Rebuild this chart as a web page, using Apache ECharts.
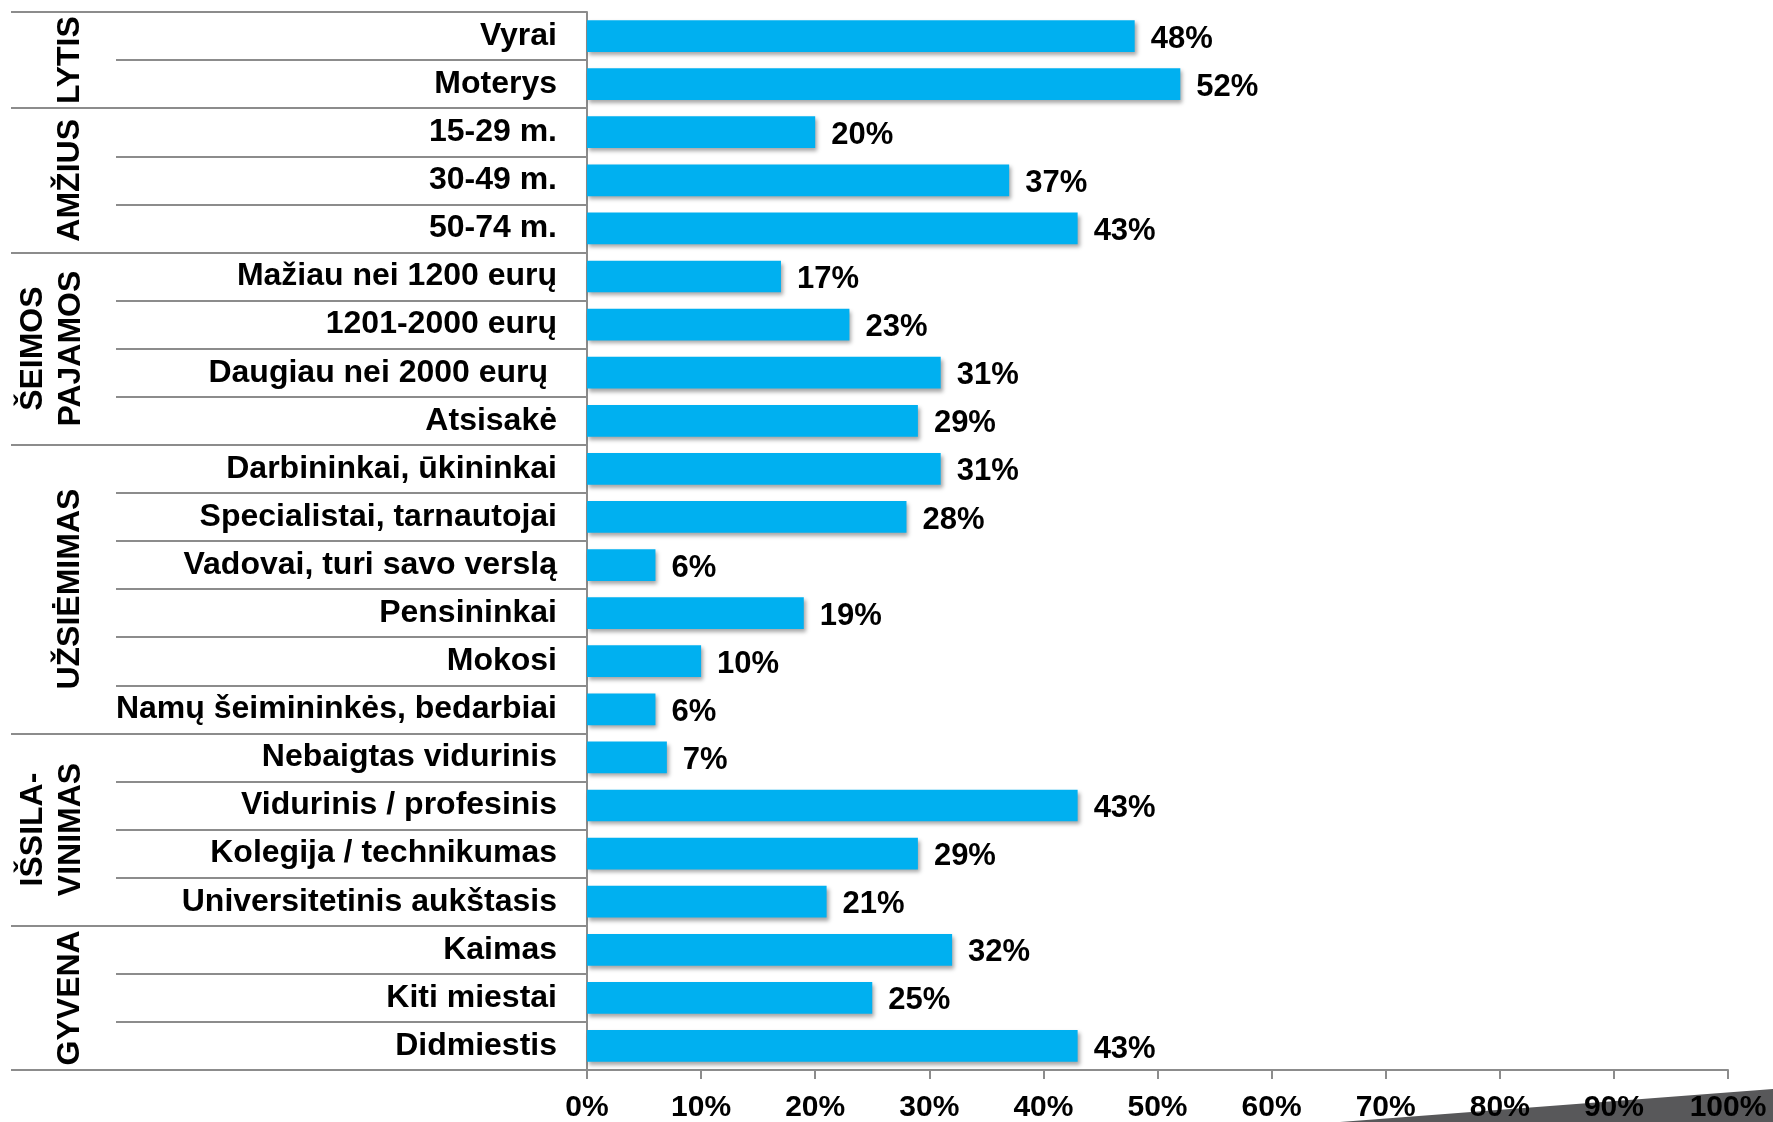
<!DOCTYPE html>
<html>
<head>
<meta charset="utf-8">
<script src="https://cdn.jsdelivr.net/npm/echarts@6/dist/echarts.min.js"></script>
<style>
  html, body { margin: 0; padding: 0; background: #fff; }
  #main { width: 1773px; height: 1122px; }
</style>
</head>
<body>
<div id="main"></div>
<script>
// kategorijos (iš viršaus į apačią)
var categories = [
  'Vyrai', 'Moterys',
  '15-29 m.', '30-49 m.', '50-74 m.',
  'Mažiau nei 1200 eurų', '1201-2000 eurų', 'Daugiau nei 2000 eurų ', 'Atsisakė',
  'Darbininkai, ūkininkai', 'Specialistai, tarnautojai', 'Vadovai, turi savo verslą',
  'Pensininkai', 'Mokosi', 'Namų šeimininkės, bedarbiai',
  'Nebaigtas vidurinis', 'Vidurinis / profesinis', 'Kolegija / technikumas', 'Universitetinis aukštasis',
  'Kaimas', 'Kiti miestai', 'Didmiestis'
];
var values = [48, 52, 20, 37, 43, 17, 23, 31, 29, 31, 28, 6, 19, 10, 6, 7, 43, 29, 21, 32, 25, 43];

// grupės: pavadinimas ir kiek eilučių
var groupNames = ['LYTIS', 'AMŽIUS', 'ŠEIMOS\nPAJAMOS', 'UŽSIĖMIMAS', 'IŠSILA-\nVINIMAS', 'GYVENA'];
var groupSizes = [2, 3, 4, 6, 4, 3];

var xTicks = { min: 0, max: 100, interval: 10 };

// grupių pradžios indeksai
var groupStarts = {};
var groupData = [];
var idx = 0;
for (var i = 0; i < groupSizes.length; i++) {
  groupStarts[idx] = true;
  groupData.push([0, idx, idx + groupSizes[i] - 1]);
  idx += groupSizes[i];
}

var lineGray = '#8c8c8c';
var fontArial = '"Liberation Sans", Arial, sans-serif';
var chart = echarts.init(document.getElementById('main'), null, { renderer: 'canvas' });

var option = {
  animation: false,
  grid: { left: 587, right: 45, top: 12, bottom: 52, containLabel: false, outerBoundsMode: 'none' },
  xAxis: {
    type: 'value',
    min: xTicks.min,
    max: xTicks.max,
    interval: xTicks.interval,
    splitLine: { show: false },
    axisLine: { show: true, lineStyle: { color: lineGray, width: 2 } },
    axisTick: { show: true, length: 9, lineStyle: { color: lineGray, width: 2 } },
    axisLabel: {
      formatter: '{value}%',
      margin: 23,
      color: '#000',
      fontFamily: fontArial,
      fontWeight: 'bold',
      fontSize: 30
    }
  },
  yAxis: [
    {
      type: 'category',
      inverse: true,
      data: categories,
      axisLine: { show: true, lineStyle: { color: lineGray, width: 2 } },
      axisTick: { show: true, interval: 0, length: 471, lineStyle: { color: lineGray, width: 2 } },
      axisLabel: {
        interval: 0,
        margin: 30,
        color: '#000',
        fontFamily: fontArial,
        fontWeight: 'bold',
        fontSize: 32
      }
    },
    {
      // tik grupių skiriamosios linijos
      type: 'category',
      inverse: true,
      position: 'left',
      data: categories,
      axisLine: { show: false },
      axisLabel: { show: false },
      axisTick: {
        show: true,
        length: 576,
        interval: function (index) { return !!groupStarts[index]; },
        lineStyle: { color: lineGray, width: 2 }
      }
    }
  ],
  series: [
    {
      type: 'bar',
      data: values,
      barCategoryGap: '34%',
      itemStyle: {
        color: '#00B0F0',
        shadowColor: 'rgba(0,0,0,0.35)',
        shadowBlur: 4,
        shadowOffsetX: 2,
        shadowOffsetY: 3
      },
      label: {
        show: true,
        position: 'right',
        distance: 16,
        offset: [0, 3],
        formatter: '{c}%',
        color: '#000',
        fontFamily: fontArial,
        fontWeight: 'bold',
        fontSize: 31
      }
    },
    {
      // grupių pavadinimai, pasukti 90°
      type: 'custom',
      coordinateSystem: 'cartesian2d',
      encode: { x: 0, y: 1 },
      data: groupData,
      silent: true,
      renderItem: function (params, api) {
        var p0 = api.coord([0, api.value(1)]);
        var p1 = api.coord([0, api.value(2)]);
        var name = groupNames[params.dataIndex];
        var twoLines = name.indexOf('\n') >= 0;
        return {
          type: 'text',
          x: p0[0] - (twoLines ? 535 : 517),
          y: (p0[1] + p1[1]) / 2,
          rotation: Math.PI / 2,
          style: {
            text: name,
            fill: '#000',
            font: 'bold 32px "Liberation Sans", Arial, sans-serif',
            align: 'center',
            verticalAlign: 'middle',
            lineHeight: 38
          }
        };
      }
    }
  ],
  graphic: [
    {
      // pilkas kampas apačioje dešinėje
      type: 'polygon',
      z: -1,
      silent: true,
      shape: { points: [[1340, 1122], [1773, 1089], [1773, 1122]] },
      style: { fill: '#58585a' }
    }
  ]
};

chart.setOption(option);
</script>
</body>
</html>
